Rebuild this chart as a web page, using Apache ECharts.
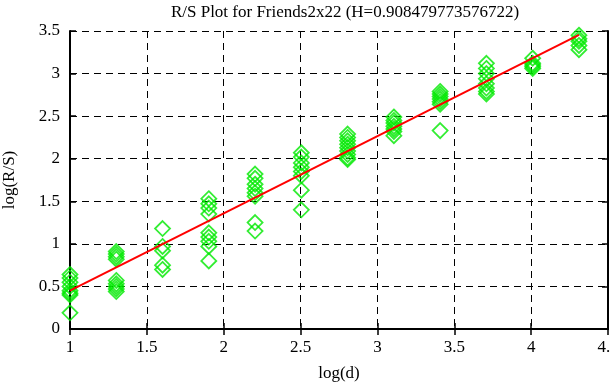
<!DOCTYPE html>
<html>
<head>
<meta charset="utf-8">
<title>R/S Plot</title>
<script src="https://cdn.jsdelivr.net/npm/echarts@6.0.0/dist/echarts.min.js"></script>
<style>
  html, body { margin: 0; padding: 0; background: #fff; }
  #chart { width: 611px; height: 385px; }
</style>
</head>
<body>
<div id="chart"></div>
<script>
// log(d) levels, one per block size
const logD = [1, 1.301, 1.602, 1.903, 2.204, 2.505, 2.806, 3.107, 3.408, 3.709, 4.01, 4.311]

// log(R/S) readings for each level
const rs1 = [0.64, 0.6, 0.55, 0.5, 0.45, 0.42, 0.4, 0.19]
const rs2 = [0.91, 0.88, 0.85, 0.82, 0.57, 0.53, 0.5, 0.47, 0.44]
const rs3 = [1.18, 0.97, 0.92, 0.75, 0.7]
const rs4 = [1.53, 1.47, 1.42, 1.35, 1.13, 1.08, 1.03, 0.97, 0.8]
const rs5 = [1.82, 1.77, 1.7, 1.65, 1.6, 1.56, 1.25, 1.15]
const rs6 = [2.07, 2.02, 1.95, 1.9, 1.85, 1.8, 1.63, 1.4]
const rs7 = [2.29, 2.25, 2.21, 2.17, 2.13, 2.09, 2.05, 2.01, 1.99]
const rs8 = [2.49, 2.45, 2.42, 2.38, 2.35, 2.32, 2.27]
const rs9 = [2.79, 2.76, 2.73, 2.7, 2.67, 2.64, 2.33]
const rs10 = [3.12, 3.06, 3.0, 2.94, 2.88, 2.83, 2.79, 2.76]
const rs11 = [3.18, 3.12, 3.1, 3.08, 3.06]
const rs12 = [3.45, 3.41, 3.38, 3.33, 3.28]
const rsByLevel = [rs1, rs2, rs3, rs4, rs5, rs6, rs7, rs8, rs9, rs10, rs11, rs12]

// fitted line (slope H)
const fitX = [1, 4.311]
const fitY = [0.45, 3.455]

const xTicks = { min: 1, max: 4.5, interval: 0.5 }
const yTicks = { min: 0, max: 3.5, interval: 0.5 }

const points = []
rsByLevel.forEach((list, i) => {
  list.forEach(v => points.push([logD[i], v]))
})
const fitData = fitX.map((x, i) => [x, fitY[i]])

const serif = 'Liberation Serif'
const axisLineStyle = { color: '#000', width: 2 }

function mainAxis (t, name, pos, gap) {
  return {
    type: 'value',
    position: pos,
    min: t.min,
    max: t.max,
    interval: t.interval,
    name: name,
    nameLocation: 'middle',
    nameGap: gap,
    nameTextStyle: { fontFamily: serif, fontSize: 17, color: '#000' },
    axisLine: { show: true, lineStyle: axisLineStyle },
    axisTick: { show: true, inside: true, length: 6, lineStyle: { color: '#000', width: 1.5 } },
    axisLabel: { fontFamily: serif, fontSize: 17, color: '#000', margin: 10, showMaxLabel: true, showMinLabel: true },
    splitLine: { show: true, lineStyle: { color: '#000', type: [7, 5], width: 1 } }
  }
}

function mirrorAxis (t, pos) {
  return {
    type: 'value',
    position: pos,
    min: t.min,
    max: t.max,
    interval: t.interval,
    axisLine: { show: true, lineStyle: axisLineStyle },
    axisTick: { show: true, inside: true, length: 6, lineStyle: { color: '#000', width: 1.5 } },
    axisLabel: { show: false },
    splitLine: { show: false }
  }
}

const chart = echarts.init(document.getElementById('chart'))
chart.setOption({
  animation: false,
  backgroundColor: '#fff',
  title: {
    text: 'R/S Plot for Friends2x22 (H=0.908479773576722)',
    left: 340,
    top: -1,
    textAlign: 'center',
    textStyle: { fontFamily: serif, fontSize: 17, fontWeight: 'normal', color: '#000' }
  },
  grid: { left: 70, right: 3, top: 31, bottom: 56, containLabel: false, outerBoundsMode: 'none' },
  xAxis: [mainAxis(xTicks, 'log(d)', 'bottom', 36), mirrorAxis(xTicks, 'top')],
  yAxis: [mainAxis(yTicks, 'log(R/S)', 'left', 52), mirrorAxis(yTicks, 'right')],
  series: [
    {
      type: 'scatter',
      data: points,
      symbol: 'diamond',
      symbolSize: 15,
      itemStyle: { color: 'rgba(0,0,0,0)', borderColor: '#00e800', borderWidth: 1.8 }
    },
    {
      type: 'line',
      data: fitData,
      symbol: 'none',
      lineStyle: { color: '#ff0000', width: 2 },
      z: 3
    }
  ]
})
</script>
</body>
</html>
